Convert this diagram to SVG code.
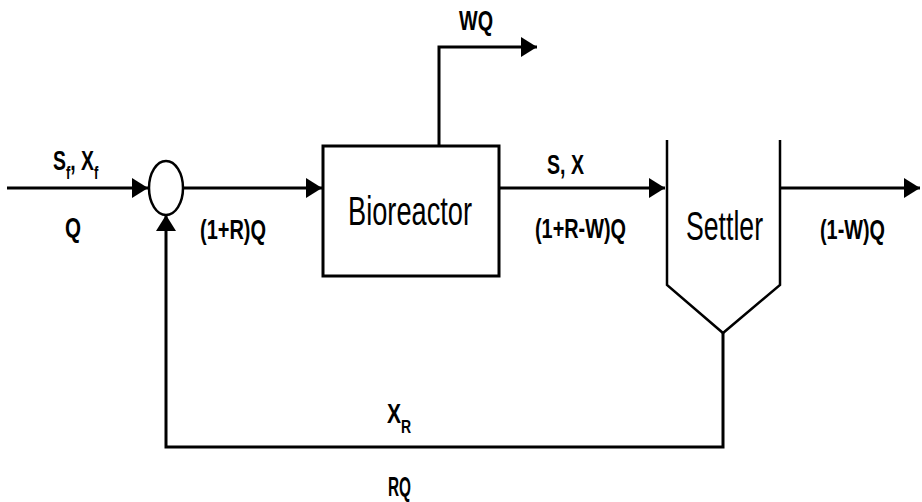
<svg xmlns="http://www.w3.org/2000/svg" width="922" height="502" viewBox="0 0 922 502">
<style>
.ln{fill:none;stroke:#000;stroke-width:3;stroke-linejoin:miter}
.th{fill:none;stroke:#000;stroke-width:2.5}
.lb{font-family:"Liberation Sans",Arial,sans-serif;font-weight:bold;font-size:27px;fill:#000}
.sub{font-size:18px}
.nm{font-family:"Liberation Sans",Arial,sans-serif;font-size:40px;fill:#000}
</style>
<defs>
<marker id="ah" viewBox="0 0 16 20" refX="16" refY="10" markerWidth="16" markerHeight="20" markerUnits="userSpaceOnUse" orient="auto">
<path d="M0,0 L16,10 L0,20 Z" fill="#000"/>
</marker>
</defs>
<rect width="922" height="502" fill="#fff"/>
<g id="connectors">
<line class="ln" x1="7" y1="188" x2="148" y2="188" marker-end="url(#ah)"/>
<line class="ln" x1="183" y1="188" x2="322" y2="188" marker-end="url(#ah)"/>
<line class="ln" x1="499" y1="188" x2="665" y2="188" marker-end="url(#ah)"/>
<line class="ln" x1="780" y1="188" x2="920" y2="188" marker-end="url(#ah)"/>
<polyline class="ln" points="439,146 439,47 537,47" marker-end="url(#ah)"/>
<polyline class="ln" points="723,333 723,447 166,447 166,215" marker-end="url(#ah)"/>
</g>
<g id="mixer">
<ellipse cx="166" cy="188" rx="17" ry="27" fill="#fff" stroke="#000" stroke-width="2.5"/>
</g>
<g id="bioreactor">
<rect x="323" y="146" width="176" height="130" fill="#fff" stroke="#000" stroke-width="3"/>
<text class="nm" x="348" y="225" textLength="124" lengthAdjust="spacingAndGlyphs">Bioreactor</text>
</g>
<g id="settler">
<polyline class="th" points="667,140 667,285 723,333 780,285 780,140"/>
<text class="nm" x="686" y="240" textLength="77" lengthAdjust="spacingAndGlyphs">Settler</text>
</g>
<g id="labels">
<text class="lb" x="459" y="30" textLength="34" lengthAdjust="spacingAndGlyphs">WQ</text>
<text class="lb" transform="translate(53,170) scale(0.72,1)">S<tspan class="sub" dy="9">f</tspan><tspan dy="-9">, X</tspan><tspan class="sub" dy="9">f</tspan></text>
<text class="lb" x="65" y="237" textLength="16" lengthAdjust="spacingAndGlyphs">Q</text>
<text class="lb" x="200" y="239" textLength="66" lengthAdjust="spacingAndGlyphs">(1+R)Q</text>
<text class="lb" x="547" y="174" textLength="37" lengthAdjust="spacingAndGlyphs">S, X</text>
<text class="lb" x="535" y="238" textLength="91" lengthAdjust="spacingAndGlyphs">(1+R-W)Q</text>
<text class="lb" x="820" y="239" textLength="65" lengthAdjust="spacingAndGlyphs">(1-W)Q</text>
<text class="lb" transform="translate(387,423) scale(0.78,1)">X<tspan class="sub" dy="10">R</tspan></text>
<text class="lb" x="388" y="496" textLength="23" lengthAdjust="spacingAndGlyphs">RQ</text>
</g>
</svg>
